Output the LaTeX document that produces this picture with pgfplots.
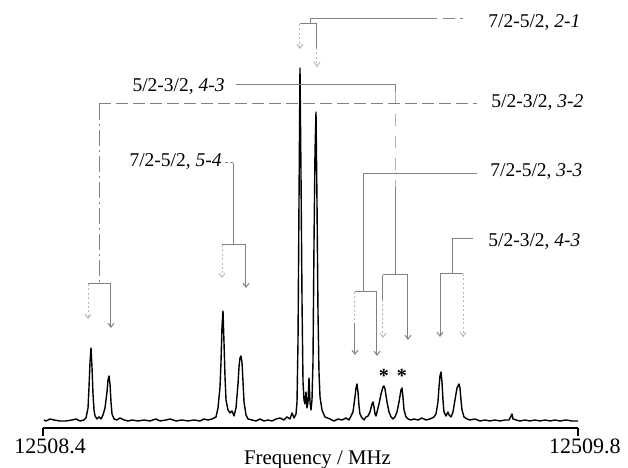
\documentclass[border=0pt]{standalone}
\usepackage{fontspec}
\setmainfont{Liberation Serif}
\usepackage{pgfplots}
\usepackage{pgfplotstable}
\pgfplotsset{compat=1.18}
\usetikzlibrary{arrows.meta}

% df = frequency - 12508.4 MHz, I = intensity (arb. units)
\pgfplotstableread{
df     I
0.0026 2
0.0079 1
0.0183 3
0.0288 2
0.0445 1
0.0602 1
0.0759 2
0.0864 3
0.0968 1
0.1073 2
0.1125 4
0.1178 14
0.1204 35
0.1230 60
0.1256 74
0.1282 55
0.1308 28
0.1335 12
0.1361 6
0.1413 3
0.1465 5
0.1518 3
0.1570 7
0.1622 14
0.1675 30
0.1701 42
0.1727 46
0.1753 38
0.1779 20
0.1806 8
0.1858 3
0.1936 2
0.2015 4
0.2120 2
0.2224 1
0.2329 2
0.2486 1
0.2643 2
0.2800 1
0.2957 3
0.3062 1
0.3219 2
0.3323 3
0.3480 1
0.3637 2
0.3794 1
0.3951 2
0.4108 1
0.4213 3
0.4318 2
0.4422 3
0.4527 5
0.4579 14
0.4632 35
0.4658 60
0.4684 95
0.4710 111
0.4736 80
0.4763 45
0.4789 22
0.4841 12
0.4893 9
0.4946 11
0.4998 6
0.5050 14
0.5103 38
0.5129 55
0.5155 64
0.5181 66
0.5207 60
0.5234 40
0.5260 20
0.5312 7
0.5364 3
0.5469 2
0.5574 1
0.5678 3
0.5783 1
0.5888 2
0.5992 1
0.6097 3
0.6202 4
0.6306 2
0.6385 5
0.6464 3
0.6516 9
0.6568 4
0.6621 8
0.6647 20
0.6673 80
0.6699 220
0.6725 354
0.6751 250
0.6778 120
0.6804 40
0.6830 22
0.6856 18
0.6882 30
0.6908 14
0.6935 20
0.6961 44
0.6987 20
0.7013 12
0.7039 22
0.7065 60
0.7092 180
0.7118 270
0.7144 310
0.7170 220
0.7196 110
0.7222 50
0.7249 25
0.7301 12
0.7379 5
0.7510 3
0.7615 1
0.7720 3
0.7824 2
0.7929 4
0.8007 2
0.8060 6
0.8112 10
0.8164 25
0.8191 34
0.8217 38
0.8243 30
0.8269 16
0.8295 8
0.8348 4
0.8400 2
0.8452 5
0.8505 6
0.8557 10
0.8609 18
0.8635 20
0.8662 15
0.8688 8
0.8714 6
0.8740 10
0.8793 18
0.8845 28
0.8897 35
0.8923 36
0.8950 33
0.9002 20
0.9054 10
0.9107 5
0.9159 3
0.9211 5
0.9264 10
0.9316 20
0.9368 32
0.9394 34
0.9420 25
0.9447 12
0.9499 5
0.9551 3
0.9630 2
0.9708 3
0.9813 2
0.9918 4
1.0022 2
1.0127 3
1.0232 5
1.0284 8
1.0336 20
1.0363 35
1.0389 46
1.0415 50
1.0441 40
1.0467 22
1.0493 10
1.0546 6
1.0598 10
1.0624 7
1.0677 5
1.0729 10
1.0781 22
1.0834 34
1.0886 38
1.0912 34
1.0938 22
1.0965 12
1.1017 5
1.1095 3
1.1174 2
1.1305 3
1.1435 1
1.1566 2
1.1697 1
1.1828 2
1.1959 1
1.2090 2
1.2194 2
1.2247 6
1.2273 8
1.2299 3
1.2377 2
1.2482 1
1.2613 2
1.2744 1
1.2875 2
1.3006 1
1.3136 2
1.3267 1
1.3398 2
1.3529 1
1.3686 2
1.3843 1
1.4000 1
}\spectrum

\begin{document}
\begin{tikzpicture}[
  ann/.style={gray, line width=0.5pt},
  faint/.style={gray!55, line width=0.5pt, dash pattern=on 1pt off 1.2pt},
  arr/.style={-{Straight Barb[length=2pt,width=3pt]}},
  lab/.style={font=\fontsize{9.75}{11}\selectfont, inner sep=0pt},
]
\begin{axis}[
  width=267.5pt, height=211.5pt, scale only axis,
  xmin=0, xmax=1.4, ymin=-6, ymax=417,
  axis x line*=bottom, hide y axis,
  x axis line style={line width=0.65pt},
  xtick={0,1.4}, xticklabels={12508.4,12509.8},
  tick align=outside, major tick length=4pt,
  tick style={black, line width=0.6pt},
  xticklabel style={font=\fontsize{11}{13}\selectfont, xshift=3.5pt, inner sep=1pt},
  clip=false,
]
\addplot[black, line width=0.7pt, line join=round] table[x=df, y=I] {\spectrum};

% 7/2-5/2, 2-1
\draw[ann] (axis cs:0.6987,398) -- (axis cs:0.6987,403) -- (axis cs:1.0310,403);
\draw[ann] (axis cs:1.0467,403) -- (axis cs:1.0782,403);
\draw[ann] (axis cs:1.0912,403) -- (axis cs:1.0991,403);
\draw[ann] (axis cs:0.6725,398) -- (axis cs:0.7170,398) -- (axis cs:0.7170,374);
\draw[faint,arr] (axis cs:0.7170,374) -- (axis cs:0.7170,355);
\draw[faint,arr] (axis cs:0.6725,398) -- (axis cs:0.6725,373);
\node[lab, anchor=base west] at (axis cs:1.1645,394) {7/2-5/2, \textit{2-1}};

% 5/2-3/2, 4-3 (left label)
\draw[ann] (axis cs:0.5050,337) -- (axis cs:0.9224,337) -- (axis cs:0.9224,330);
\draw[ann, gray!60, dash pattern=on 6pt off 5pt] (axis cs:0.9224,330) -- (axis cs:0.9224,235);
\draw[ann] (axis cs:0.9224,235) -- (axis cs:0.9224,147);
\draw[ann] (axis cs:0.8897,147) -- (axis cs:0.9551,147);
\draw[ann] (axis cs:0.8897,147) -- (axis cs:0.8897,122);
\draw[faint,arr] (axis cs:0.8897,122) -- (axis cs:0.8897,84);
\draw[ann,arr] (axis cs:0.9551,147) -- (axis cs:0.9551,82);
\node[lab, anchor=base east] at (axis cs:0.4763,330) {5/2-3/2, \textit{4-3}};

% 5/2-3/2, 3-2
\draw[ann, dash pattern=on 6pt off 2.5pt] (axis cs:0.1478,318) -- (axis cs:1.1357,318);
\draw[ann, dash pattern=on 8pt off 2pt on 1pt off 2pt] (axis cs:0.1478,318) -- (axis cs:0.1478,138);
\draw[ann] (axis cs:0.1178,138) -- (axis cs:0.1779,138);
\draw[ann,arr] (axis cs:0.1779,138) -- (axis cs:0.1779,94);
\draw[faint,arr] (axis cs:0.1178,138) -- (axis cs:0.1178,103);
\node[lab, anchor=base west] at (axis cs:1.1723,314) {5/2-3/2, \textit{3-2}};

% 7/2-5/2, 5-4
\draw[ann, dash pattern=on 1.5pt off 1pt] (axis cs:0.4763,259) -- (axis cs:0.4972,259);
\draw[ann] (axis cs:0.4972,259) -- (axis cs:0.4972,177);
\draw[ann] (axis cs:0.4684,177) -- (axis cs:0.5312,177);
\draw[ann,arr] (axis cs:0.5312,177) -- (axis cs:0.5312,134);
\draw[faint,arr] (axis cs:0.4684,177) -- (axis cs:0.4684,144);
\node[lab, anchor=base east] at (axis cs:0.4684,255) {7/2-5/2, \textit{5-4}};

% 7/2-5/2, 3-3
\draw[ann] (axis cs:1.1357,248) -- (axis cs:0.8374,248) -- (axis cs:0.8374,130);
\draw[ann] (axis cs:0.8164,130) -- (axis cs:0.8740,130);
\draw[faint] (axis cs:0.8164,130) -- (axis cs:0.8164,99);
\draw[ann,arr] (axis cs:0.8164,99) -- (axis cs:0.8164,67);
\draw[ann,arr] (axis cs:0.8740,130) -- (axis cs:0.8740,66);
\node[lab, anchor=base west] at (axis cs:1.1697,245) {7/2-5/2, \textit{3-3}};

% 5/2-3/2, 4-3 (right label)
\draw[ann] (axis cs:1.1252,183) -- (axis cs:1.0703,183) -- (axis cs:1.0703,148);
\draw[ann] (axis cs:1.0389,148) -- (axis cs:1.0991,148);
\draw[ann,arr] (axis cs:1.0389,148) -- (axis cs:1.0389,85);
\draw[faint,arr] (axis cs:1.0991,148) -- (axis cs:1.0991,85);
\node[lab, anchor=base west] at (axis cs:1.1645,175) {5/2-3/2, \textit{4-3}};

% asterisks
\node[font=\fontsize{10}{12}\selectfont\bfseries] at (axis cs:0.8923,46) {*};
\node[font=\fontsize{10}{12}\selectfont\bfseries] at (axis cs:0.9394,46) {*};

\node[font=\fontsize{10.4}{12}\selectfont, anchor=base, yshift=-18.5pt]
  at (axis description cs:0.513,0) {Frequency / MHz};

\coordinate (bbSW) at (axis description cs:-0.0804,-0.0946);
\coordinate (bbNE) at (axis description cs:1.0935,1.0118);
\end{axis}
\pgfresetboundingbox
\path[use as bounding box] (bbSW) rectangle (bbNE);
\end{tikzpicture}
\end{document}
